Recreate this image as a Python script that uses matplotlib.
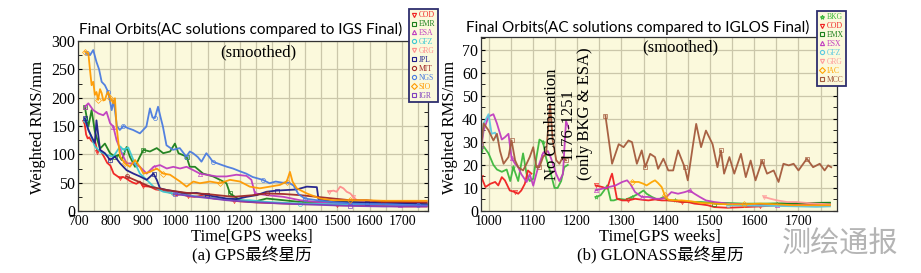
import matplotlib.pyplot as plt
from matplotlib.ticker import MultipleLocator
from matplotlib.lines import Line2D

plt.rcParams['font.family'] = ['Liberation Serif', 'Noto Sans CJK SC']

# ---------------- GPS (a) ----------------
gps_names = ['COD', 'EMR', 'ESA', 'GFZ', 'GRG', 'JPL', 'MIT', 'NGS', 'SIO', 'IGR']
gps_colors = ['#F02020', '#1A7F1A', '#C03CC0', '#3CC8D2', '#FF8C8C',
              '#1E1E8C', '#A02828', '#4A7BE0', '#FF9A00', '#7F3FBF']
gps_markers = ['v', 's', '^', 'o', 'v', 's', 'o', 'o', 'D', 's']

cod_w = [720, 725, 730, 735, 740, 745, 752, 760, 768, 780, 790, 800, 810, 820, 830, 840, 850, 860,
         870, 880, 891, 900, 922, 940, 953, 980, 1004, 1020, 1040, 1060, 1080, 1100, 1120, 1140,
         1160, 1180, 1200, 1250, 1300, 1350, 1400, 1450, 1500, 1550, 1600, 1650, 1700, 1750, 1776]
cod_v = [157, 135, 128, 130, 125, 122, 125, 104, 108, 96, 85, 80, 66, 62, 58, 60, 57, 53,
         50, 48, 52, 44, 43, 38, 37, 33, 28, 30, 26, 25, 27, 24, 22, 21,
         20, 18, 17, 15, 14, 13, 12, 12, 10, 10, 9, 9, 8, 8, 8]

emr_w = [721, 732, 742, 752, 768, 783, 799, 814, 825, 835, 850, 860, 876, 891, 902, 922, 943, 963,
         984, 999, 1010, 1035, 1045, 1061, 1086, 1117, 1138, 1158, 1169, 1200, 1241, 1282, 1334,
         1385, 1488, 1591, 1694, 1776]
emr_v = [184, 149, 178, 140, 110, 119, 102, 96, 99, 90, 113, 96, 78, 96, 108, 105, 111, 102,
         105, 119, 102, 96, 78, 78, 66, 61, 55, 49, 31, 19, 16, 22, 19,
         16, 16, 15, 14, 12]

esa_w = [721, 732, 747, 763, 778, 788, 799, 809, 819, 835, 850, 871, 891, 912, 933, 953, 974, 994,
         1015, 1035, 1056, 1076, 1097, 1128, 1158, 1189, 1220, 1235, 1246, 1282, 1334, 1385, 1437,
         1488, 1591, 1694, 1776]
esa_v = [184, 190, 178, 172, 169, 175, 155, 149, 125, 102, 84, 84, 78, 66, 78, 81, 75, 78,
         75, 78, 72, 66, 64, 61, 61, 64, 62, 55, 31, 28, 25, 19, 16,
         13, 12, 11, 11]

gfz_w = [721, 737, 752, 768, 788, 809, 830, 840, 855, 871, 891, 912, 933, 963, 994, 1035, 1076,
         1128, 1179, 1230, 1282, 1385, 1488, 1591, 1694, 1776]
gfz_v = [160, 137, 114, 105, 99, 96, 114, 108, 112, 90, 66, 55, 43, 34, 31, 28, 25,
         22, 19, 19, 16, 13, 12, 12, 11, 11]

grg_w = [1473, 1488, 1498, 1509, 1519, 1529, 1540, 1550, 1560, 1581, 1642, 1694, 1776]
grg_v = [34, 36, 34, 43, 40, 34, 31, 25, 19, 16, 16, 16, 16]

jpl_w = [721, 732, 742, 752, 757, 768, 783, 799, 814, 830, 850, 871, 891, 912, 933, 943, 953, 974,
         1004, 1035, 1066, 1097, 1128, 1158, 1189, 1220, 1251, 1282, 1313, 1344, 1375, 1406, 1437,
         1442, 1488, 1591, 1694, 1776]
jpl_v = [164, 143, 131, 120, 160, 108, 102, 90, 96, 84, 72, 66, 61, 55, 66, 55, 40, 37,
         34, 31, 32, 28, 25, 22, 21, 25, 28, 34, 36, 37, 38, 43, 42,
         21, 16, 15, 14, 12]

mit_w = [850, 922, 974, 1035, 1097, 1179, 1241, 1282, 1334, 1385, 1437, 1488, 1540, 1591, 1642,
         1694, 1776]
mit_v = [61, 43, 37, 32, 30, 25, 28, 31, 30, 28, 25, 22, 19, 19, 16, 16, 15]

ngs_w = [727, 737, 747, 757, 765, 773, 783, 793, 800, 804, 810, 814, 820, 829, 840, 855, 870, 891,
         911, 922, 930, 937, 947, 955, 962, 973, 993, 1014, 1034, 1045, 1055, 1070, 1081, 1096,
         1106, 1116, 1140, 1160, 1178, 1200, 1219, 1239, 1270, 1291, 1310, 1330, 1350, 1365, 1380,
         1400, 1450, 1500, 1550, 1600, 1650, 1700, 1750, 1776]
ngs_v = [278, 275, 284, 263, 250, 228, 222, 210, 190, 178, 195, 178, 150, 143, 150, 146, 143, 137,
         149, 181, 165, 164, 184, 165, 149, 116, 108, 111, 96, 105, 102, 95, 87, 102,
         95, 87, 82, 78, 75, 70, 66, 60, 55, 49, 52, 50, 50, 45, 30,
         22, 18, 15, 13, 12, 12, 11, 10, 10]

sio_w = [722, 732, 737, 742, 747, 752, 757, 762, 768, 773, 778, 783, 788, 793, 799, 804, 809, 814,
         819, 825, 830, 845, 860, 876, 891, 902, 922, 943, 963, 984, 1015, 1035, 1056, 1076, 1107,
         1138, 1169, 1200, 1230, 1261, 1292, 1323, 1344, 1354, 1362, 1375, 1406, 1447, 1488, 1540,
         1591, 1642, 1694, 1740, 1776]
sio_v = [281, 278, 249, 222, 228, 205, 210, 196, 215, 208, 195, 196, 205, 210, 200, 196, 190, 199,
         149, 119, 96, 84, 78, 90, 78, 66, 69, 75, 66, 64, 52, 43, 52, 49, 52,
         49, 55, 52, 43, 40, 43, 46, 52, 69, 52, 40, 31, 22, 19, 19,
         19, 18, 18, 18, 18]

igr_w = [1000, 1050, 1100, 1158, 1230, 1334, 1437, 1540, 1642, 1776]
igr_v = [30, 26, 23, 19, 16, 13, 11, 9, 8, 8]

gps_weeks = [cod_w, emr_w, esa_w, gfz_w, grg_w, jpl_w, mit_w, ngs_w, sio_w, igr_w]
gps_vals = [cod_v, emr_v, esa_v, gfz_v, grg_v, jpl_v, mit_v, ngs_v, sio_v, igr_v]

# ---------------- GLONASS (b) ----------------
glo_names = ['BKG', 'COD', 'EMX', 'ESX', 'GFZ', 'GRG', 'IAC', 'MCC']
glo_colors = ['#3CB83C', '#F02020', '#1A7F1A', '#C03CC0', '#5CC8E0', '#FF9C9C', '#FFA500', '#A45A3C']
glo_markers = ['*', 'v', 's', '^', 'o', 'v', 'D', 's']

# segment before the gap (1176-1251) and after it
bkg_w1 = [984, 989, 1000, 1011, 1019, 1030, 1041, 1049, 1056, 1067, 1078, 1086, 1093, 1101, 1108,
          1115, 1123, 1130, 1141, 1149, 1156, 1164, 1171, 1179]
bkg_v1 = [26, 28, 25, 20, 18, 17, 18, 13, 19, 13, 25, 16, 13, 14, 23,
          31, 30, 23, 16, 10, 10, 13, 19, 20]
bkg_w2 = [1242, 1253, 1261, 1268, 1276, 1283, 1294, 1309, 1324, 1339, 1350, 1357, 1369, 1383, 1395,
          1406, 1421, 1436, 1458, 1480, 1510, 1540, 1577, 1614, 1652, 1689, 1726, 1771]
bkg_v2 = [6.1, 6.8, 8.9, 11.1, 4.6, 4.6, 5.3, 4.9, 6.1, 7.5, 8.9, 7.5, 6.1, 4.9, 6.1,
          4.6, 4.6, 3.9, 3.9, 3.9, 3.5, 3.5, 3.2, 3.2, 3.2, 3.2, 3.5, 3.5]

cod_w1 = [984, 993, 1004, 1015, 1022, 1030, 1037, 1048, 1060, 1067, 1074, 1082, 1089, 1097]
cod_v1 = [14.7, 10.4, 11.8, 12.6, 11.1, 14.7, 13.3, 8.9, 8.2, 7.5, 8.9, 11.8, 17.6, 16.2]
cod_w2 = [1242, 1257, 1268, 1276, 1279, 1285, 1290, 1302, 1316, 1331, 1346, 1361, 1376, 1391, 1406,
          1421, 1436, 1450, 1465, 1480, 1495, 1510, 1540, 1577, 1614, 1652, 1689, 1726, 1771]
cod_v2 = [11.1, 10.4, 9.7, 14.7, 16.2, 10.4, 5.3, 4.6, 4.6, 5.3, 4.9, 4.6, 5.0, 4.6, 4.6,
          4.3, 3.9, 3.9, 3.2, 2.9, 2.5, 1.7, 1.4, 1.7, 2.0, 2.5, 2.9, 2.9, 2.9]

emx_w = [1510, 1577, 1652, 1726, 1771]
emx_v = [3.2, 2.9, 3.2, 3.5, 3.6]

esx_w1 = [984, 989, 1000, 1011, 1019, 1030, 1037, 1045, 1052, 1060, 1067, 1074, 1086, 1093, 1101,
          1112, 1123, 1134, 1141, 1153, 1160, 1168, 1175, 1181]
esx_v1 = [28, 35, 41, 42, 38, 31, 32, 33.5, 23, 20.5, 19, 16, 12.6, 16, 11,
          19, 25, 26, 23, 16, 13, 16, 39, 36]
esx_w2 = [1242, 1257, 1272, 1287, 1302, 1313, 1320, 1331, 1346, 1361, 1376, 1391, 1402, 1413, 1428,
          1443, 1454, 1465, 1477, 1491, 1510, 1540, 1577, 1614, 1652, 1689, 1726, 1771]
esx_v2 = [9, 9.7, 10.4, 11.1, 12.6, 13.3, 11.8, 8.2, 6.1, 6.1, 5.3, 5.3, 6.1, 8.2, 7.5,
          8.2, 8.9, 7.5, 6.1, 4.6, 3.9, 3.2, 2.9, 2.5, 2.5, 2.5, 2.5, 2.5]

gfz_w1 = [984, 989, 1000, 1007, 1015, 1022]
gfz_v1 = [29, 38, 42, 33.5, 34, 30.6]
gfz_w2 = [1540, 1600, 1650, 1700, 1740, 1771]
gfz_v2 = [2.5, 2.3, 2.2, 2.0, 1.8, 2.0]

grg2_w = [1622, 1637, 1652, 1674, 1696, 1719, 1741, 1771]
grg2_v = [6.1, 5.3, 4.6, 3.9, 3.9, 3.5, 3.2, 2.9]

iac_w = [1324, 1339, 1350, 1357, 1369, 1376, 1383, 1391, 1398, 1406, 1421, 1436, 1458, 1480, 1510,
         1540, 1577, 1614, 1652, 1689, 1726, 1771]
iac_v = [12.6, 12.6, 11.8, 11.1, 12.6, 13.3, 12.1, 10.4, 6.8, 4.9, 4.6, 4.6, 4.2, 3.5, 3.2,
         2.9, 2.9, 3.2, 2.9, 2.5, 2.5, 2.5]

mcc_w1 = [984, 989, 1000, 1011, 1019, 1026, 1034, 1045, 1052, 1060, 1067, 1078, 1086, 1093, 1101,
          1108, 1115, 1123, 1130, 1139, 1145, 1153, 1160, 1168, 1175]
mcc_v1 = [29, 38, 35, 30.6, 33.5, 26, 20.5, 23.4, 30.6, 22, 19, 17.6, 20.5, 23.4, 27.7,
          19, 19, 23.4, 24.8, 46.5, 30.6, 22, 20.5, 23.4, 22]
mcc_w2 = [1264, 1279, 1294, 1305, 1316, 1324, 1335, 1346, 1354, 1365, 1376, 1383, 1395, 1406, 1417,
          1428, 1443, 1450, 1462, 1469, 1480, 1491, 1506, 1517, 1525, 1532, 1544, 1555, 1570, 1581,
          1592, 1603, 1618, 1629, 1644, 1655, 1666, 1678, 1689, 1700, 1719, 1733, 1748, 1759, 1767,
          1774]
mcc_v2 = [41.4, 20.5, 29, 27.7, 30.6, 29.9, 20.5, 26.3, 19, 24.8, 23.4, 18.3, 22.7, 17.6, 17.6,
          26.3, 19, 13.3, 29, 37.8, 27.7, 34.9, 29, 19, 26.3, 16.2, 23.4, 16.2, 24.8, 14.7,
          21.9, 13.3, 21.9, 16.2, 17.6, 12.6, 20.5, 19.8, 20.5, 17.6, 22.7, 19, 20.5, 17.6, 19.8,
          19]

glo_weeks = [[bkg_w1, bkg_w2], [cod_w1, cod_w2], [emx_w], [esx_w1, esx_w2],
             [gfz_w1, gfz_w2], [grg2_w], [iac_w], [mcc_w1, mcc_w2]]
glo_vals = [[bkg_v1, bkg_v2], [cod_v1, cod_v2], [emx_v], [esx_v1, esx_v2],
            [gfz_v1, gfz_v2], [grg2_v], [iac_v], [mcc_v1, mcc_v2]]

BG = '#FBF9DC'
GRID = '#CBC7AA'

fig = plt.figure(figsize=(9.21, 2.73), dpi=100)
ax1 = fig.add_axes([78 / 921, 62 / 273, 350 / 921, 170 / 273])
ax2 = fig.add_axes([481 / 921, 62 / 273, 356 / 921, 174 / 273])

for ax in (ax1, ax2):
    ax.set_facecolor(BG)
    ax.xaxis.set_minor_locator(MultipleLocator(50))
    ax.xaxis.set_major_locator(MultipleLocator(100))
    ax.grid(True, which='both', axis='x', color=GRID, lw=0.9)
    ax.grid(True, which='major', axis='y', color=GRID, lw=0.9)
    ax.set_axisbelow(True)
    ax.tick_params(axis='x', which='both', direction='in', length=0, labelsize=10, pad=3)
    ax.tick_params(axis='y', which='both', direction='in', right=True, length=3, labelsize=11.5, pad=2)
    for s in ax.spines.values():
        s.set_color('#333333')
        s.set_linewidth(0.9)

# GPS lines
for name, c, m, w, v in zip(gps_names, gps_colors, gps_markers, gps_weeks, gps_vals):
    ax1.plot(w, v, color=c, lw=1.3, marker=m, ms=3, mfc='none', mew=0.5,
             markevery=7, alpha=0.95)
ax1.set_xlim(700, 1780)
ax1.set_ylim(0, 300)
ax1.yaxis.set_major_locator(MultipleLocator(50))
ax1.yaxis.set_minor_locator(MultipleLocator(25))

# GLONASS lines
for name, c, m, wl, vl in zip(glo_names, glo_colors, glo_markers, glo_weeks, glo_vals):
    for w, v in zip(wl, vl):
        ax2.plot(w, v, color=c, lw=1.3, marker=m, ms=3, mfc='none', mew=0.5,
                 markevery=8, alpha=0.95)
ax2.set_xlim(983, 1787)
ax2.set_ylim(0, 75.5)
ax2.yaxis.set_major_locator(MultipleLocator(10))
ax2.yaxis.set_minor_locator(MultipleLocator(5))

ax2.text(1161, 13.4, 'No Combination\n1176-1251', rotation=90, ha='center', va='bottom',
         fontsize=12, linespacing=1.0)
ax2.text(1219, 13.4, '(only BKG & ESA)', rotation=90, ha='center', va='bottom', fontsize=12)

# titles and labels
fig.text(241 / 921, 1 - 29 / 273, 'Final Orbits(AC solutions compared to IGS Final)',
         ha='center', va='center', fontsize=11, family='Lato')
fig.text(258 / 921, 1 - 52 / 273, '(smoothed)', ha='center', va='center', fontsize=12)
fig.text(638 / 921, 1 - 27 / 273, 'Final Orbits(AC solutions compared to IGLOS Final)',
         ha='center', va='center', fontsize=11, family='Lato')
fig.text(680 / 921, 1 - 47 / 273, '(smoothed)', ha='center', va='center', fontsize=12)

fig.text(38 / 921, 1 - 127 / 273, 'Weighted RMS/mm', rotation=90, ha='center', va='center', fontsize=12)
fig.text(450 / 921, 1 - 127 / 273, 'Weighted RMS/mm', rotation=90, ha='center', va='center', fontsize=12)
fig.text(252 / 921, 1 - 237 / 273, 'Time[GPS weeks]', ha='center', va='center', fontsize=12)
fig.text(660 / 921, 1 - 237 / 273, 'Time[GPS weeks]', ha='center', va='center', fontsize=12)
fig.text(252 / 921, 1 - 256 / 273, '(a) GPS最终星历', ha='center', va='center', fontsize=12)
fig.text(660 / 921, 1 - 256 / 273, '(b) GLONASS最终星历', ha='center', va='center', fontsize=12)

# watermark
fig.text(840 / 921, 1 - 245 / 273, '测绘通报', ha='center', va='center', fontsize=21,
         color='#B4B4B4', family='Noto Sans CJK SC', fontweight='light')

# legends
def make_legend(names, colors, markers, anchor):
    handles = [Line2D([], [], ls='none', marker=m, color=c, mfc='none', ms=3, mew=0.8)
               for c, m in zip(colors, markers)]
    leg = fig.legend(handles, names, loc='upper left', bbox_to_anchor=anchor,
                     fontsize=5.5, labelcolor=colors, frameon=True, fancybox=False,
                     labelspacing=0.12, handlelength=0.6, handletextpad=0.4,
                     borderpad=0.3, borderaxespad=0)
    frame = leg.get_frame()
    frame.set_facecolor(BG)
    frame.set_edgecolor('#2E2E6E')
    frame.set_linewidth(1.3)
    frame.set_alpha(1)

make_legend(gps_names, gps_colors, gps_markers, (409 / 921, 1 - 9 / 273))
make_legend(glo_names, glo_colors, glo_markers, (817 / 921, 1 - 11 / 273))

fig.savefig('out.png', dpi=100, facecolor='white')
